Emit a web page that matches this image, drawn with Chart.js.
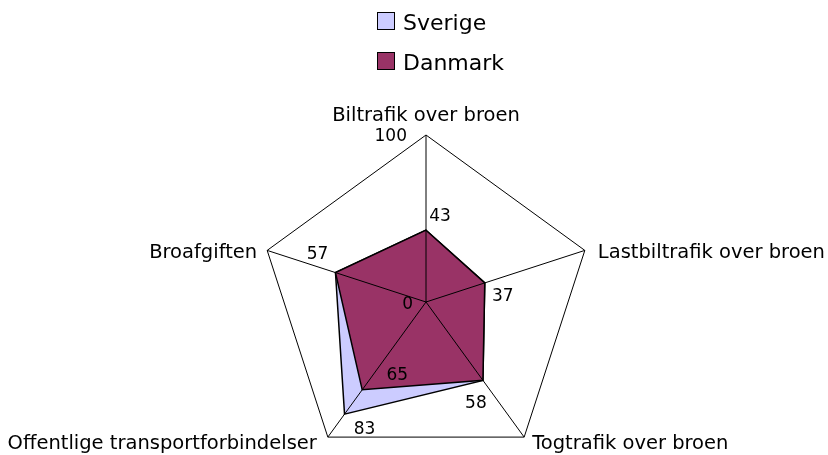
<!DOCTYPE html>
<html>
<head>
<meta charset="utf-8">
<script src="https://cdn.jsdelivr.net/npm/chart.js@4.4.1/dist/chart.umd.min.js"></script>
<style>
  html, body { margin: 0; padding: 0; background: #fff; }
  #wrap { width: 828px; height: 455px; }
</style>
</head>
<body>
<div id="wrap"><canvas id="radar" width="828" height="455"></canvas></div>
<script>
// data
var categories = ["Biltrafik over broen", "Lastbiltrafik over broen", "Togtrafik over broen", "Offentlige transportforbindelser", "Broafgiften"];
var seriesNames = ["Sverige", "Danmark"];
var sverige = [43, 37, 58, 83, 57];
var danmark = [43, 37, 58, 65, 57];
var tickValues = [0, 100];

var colors = ["#ccccff", "#993366"];
var labelFont = "19.5px 'DejaVu Sans'";
var valueFont = "17px 'DejaVu Sans'";

// where the value labels sit relative to their point (dx, dy)
var valueOffsets = [
  [[14, -14], [18, 14], [-7, 23], [20, 15], [-18, -18]],
  [[14, -14], [18, 14], [-7, 23], [35, -14], [-18, -18]]
];
var tickOffsets = [[-13, 3], [-19, 2]];

var overlay = {
  id: "overlay",
  afterDatasetsDraw: function (chart) {
    var ctx = chart.ctx;
    var r = chart.scales.r;
    var n = categories.length;
    var i;

    // spokes drawn on top of the filled areas
    ctx.save();
    ctx.strokeStyle = "#000";
    ctx.lineWidth = 1;
    for (i = 0; i < n; i++) {
      var p = r.getPointPositionForValue(i, 100);
      ctx.beginPath();
      ctx.moveTo(r.xCenter, r.yCenter);
      ctx.lineTo(p.x, p.y);
      ctx.stroke();
    }
    ctx.restore();

    // scale labels 0 and 100 on the first spoke
    ctx.save();
    ctx.font = valueFont;
    ctx.fillStyle = "#000";
    ctx.textAlign = "right";
    ctx.textBaseline = "middle";
    tickValues.forEach(function (v, k) {
      var p = r.getPointPositionForValue(0, v);
      ctx.fillText(String(v), p.x + tickOffsets[k][0], p.y + tickOffsets[k][1]);
    });
    ctx.restore();

    // value labels
    ctx.save();
    ctx.font = valueFont;
    ctx.fillStyle = "#000";
    ctx.textAlign = "center";
    ctx.textBaseline = "middle";
    chart.data.datasets.forEach(function (ds, d) {
      var meta = chart.getDatasetMeta(d);
      ds.data.forEach(function (v, j) {
        // hidden under the other series when equal
        if (d === 0 && v === danmark[j]) return;
        var pt = meta.data[j];
        ctx.fillText(String(v), pt.x + valueOffsets[d][j][0], pt.y + valueOffsets[d][j][1]);
      });
    });
    ctx.restore();

    // category labels
    ctx.save();
    ctx.font = labelFont;
    ctx.fillStyle = "#000";
    ctx.textBaseline = "alphabetic";
    for (i = 0; i < n; i++) {
      var q = r.getPointPositionForValue(i, 100);
      var x = q.x, y = q.y;
      if (Math.abs(q.x - r.xCenter) < 2) {
        ctx.textAlign = "center"; y = q.y - 14;
      } else if (q.y < r.yCenter) {
        ctx.textAlign = q.x > r.xCenter ? "left" : "right";
        x = q.x > r.xCenter ? q.x + 13 : q.x - 10;
        y = q.y + 8;
      } else {
        ctx.textAlign = q.x > r.xCenter ? "left" : "right";
        x = q.x > r.xCenter ? q.x + 8 : q.x - 11;
        y = q.y + 12;
      }
      ctx.fillText(categories[i], x, y);
    }
    ctx.restore();

    // legend
    ctx.save();
    ctx.font = "22px 'DejaVu Sans'";
    ctx.textAlign = "left";
    ctx.textBaseline = "alphabetic";
    seriesNames.forEach(function (name, k) {
      var top = 12 + k * 40;
      ctx.fillStyle = colors[k];
      ctx.fillRect(377.5, top + 0.5, 17, 17);
      ctx.strokeStyle = "#000";
      ctx.lineWidth = 1;
      ctx.strokeRect(377.5, top + 0.5, 17, 17);
      ctx.fillStyle = "#000";
      ctx.fillText(name, 403, top + 18);
    });
    ctx.restore();
  }
};

new Chart(document.getElementById("radar"), {
  type: "radar",
  data: {
    labels: categories,
    datasets: [
      {
        label: seriesNames[0],
        data: sverige,
        backgroundColor: colors[0],
        borderColor: "#000",
        borderWidth: 1.5,
        pointRadius: 0,
        fill: true,
        order: 1
      },
      {
        label: seriesNames[1],
        data: danmark,
        backgroundColor: colors[1],
        borderColor: "#000",
        borderWidth: 1.5,
        pointRadius: 0,
        fill: true,
        order: 0
      }
    ]
  },
  options: {
    responsive: false,
    devicePixelRatio: 1,
    animation: false,
    plugins: {
      legend: { display: false },
      tooltip: { enabled: false }
    },
    elements: { line: { tension: 0 } },
    scales: {
      r: {
        min: 0,
        max: 100,
        ticks: { display: false, stepSize: 100 },
        grid: { color: "#000", lineWidth: 1 },
        angleLines: { display: false },
        pointLabels: { display: false },
        afterFit: function (s) {
          s.xCenter = 426;
          s.yCenter = 302;
          s.drawingArea = 167;
        }
      }
    }
  },
  plugins: [overlay]
});
</script>
</body>
</html>
